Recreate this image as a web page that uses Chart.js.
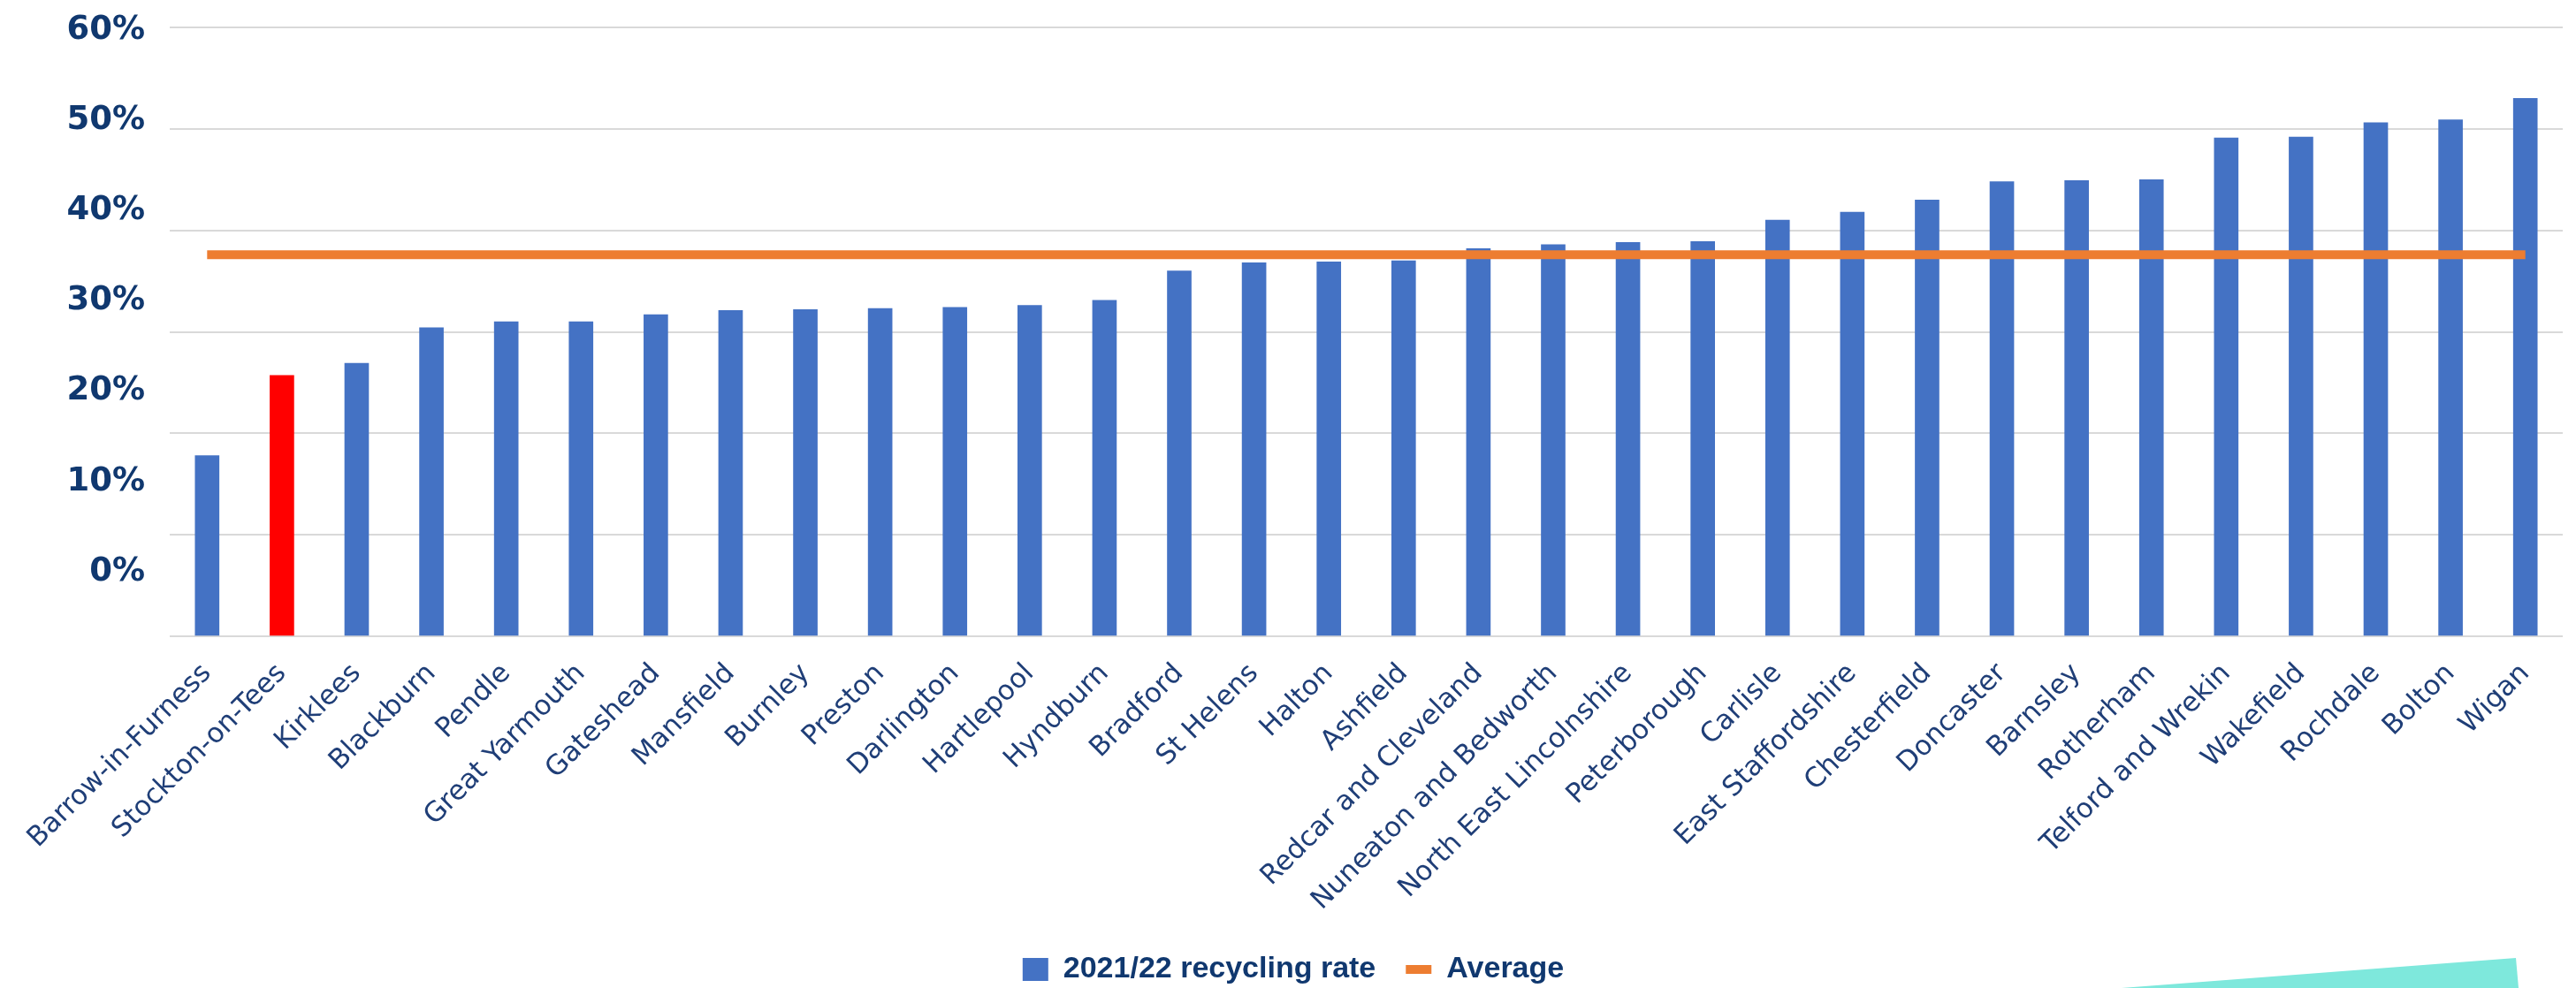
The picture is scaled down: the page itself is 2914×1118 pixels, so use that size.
<!DOCTYPE html>
<html>
<head>
<meta charset="utf-8">
<script src="https://cdn.jsdelivr.net/npm/chart.js@4"></script>
<style>
  html, body { margin: 0; padding: 0; background: #ffffff; overflow: hidden; }
  #wrap { width: 2914px; height: 1118px; position: relative; }
</style>
</head>
<body>
<div id="wrap"><canvas id="c"></canvas></div>
<script>
// ---- data ----
const categories = ["Barrow-in-Furness", "Stockton-on-Tees", "Kirklees", "Blackburn", "Pendle",
  "Great Yarmouth", "Gateshead", "Mansfield", "Burnley", "Preston", "Darlington", "Hartlepool",
  "Hyndburn", "Bradford", "St Helens", "Halton", "Ashfield", "Redcar and Cleveland",
  "Nuneaton and Bedworth", "North East Lincolnshire", "Peterborough", "Carlisle",
  "East Staffordshire", "Chesterfield", "Doncaster", "Barnsley", "Rotherham",
  "Telford and Wrekin", "Wakefield", "Rochdale", "Bolton", "Wigan"];
const recyclingRate = [17.8, 25.7, 26.9, 30.4, 31.0, 31.0, 31.7, 32.1, 32.2, 32.3, 32.4, 32.6,
  33.1, 36.0, 36.8, 36.9, 37.0, 38.2, 38.6, 38.8, 38.9, 41.0, 41.8, 43.0, 44.8, 44.9, 45.0,
  49.1, 49.2, 50.6, 50.9, 53.0];
const averageRate = 37.6;
const highlighted = "Stockton-on-Tees";
const seriesNames = ["2021/22 recycling rate", "Average"];
const yTickLabels = [0, 10, 20, 30, 40, 50, 60];
const yLabelAxisMin = -7.41;   // tick labels in the source sit offset from the gridlines

// ---- styles ----
const BLUE = '#4472C4', RED = '#FF0000', ORANGE = '#ED7D31', NAVY = '#10386f', XNAVY = '#1f3e77';

const teal = {
  id: 'tealWedge',
  afterDraw(chart) {
    const ctx = chart.ctx;
    ctx.save();
    ctx.fillStyle = '#7ee8dc';
    ctx.beginPath();
    ctx.moveTo(2400, 1118);
    ctx.lineTo(2846, 1084);
    ctx.lineTo(2849, 1118);
    ctx.closePath();
    ctx.fill();
    ctx.restore();
  }
};

new Chart(document.getElementById('c'), {
  data: {
    labels: categories,
    datasets: [
      {
        type: 'bar',
        label: seriesNames[0],
        data: recyclingRate,
        backgroundColor: categories.map(c => c === highlighted ? RED : BLUE),
        barThickness: 27,
        order: 1,
        yAxisID: 'y'
      },
      {
        type: 'line',
        label: seriesNames[1],
        data: categories.map(() => averageRate),
        borderColor: ORANGE,
        backgroundColor: ORANGE,
        borderWidth: 10,
        pointRadius: 0,
        pointHoverRadius: 0,
        fill: false,
        order: 0,
        yAxisID: 'y'
      }
    ]
  },
  plugins: [teal],
  options: {
    responsive: true,
    maintainAspectRatio: false,
    animation: false,
    devicePixelRatio: 1,
    layout: { padding: { left: 27, right: 15, top: 31, bottom: -6 } },
    plugins: {
      tooltip: { enabled: false },
      legend: {
        position: 'bottom',
        labels: {
          usePointStyle: true,
          pointStyleWidth: 29,
          boxHeight: 26,
          padding: 34,
          color: NAVY,
          font: { family: 'Liberation Sans', weight: 'bold', size: 34, lineHeight: 1 },
          generateLabels: chart => chart.data.datasets.map((ds, i) => ({
            text: ds.label,
            datasetIndex: i,
            fillStyle: i === 0 ? BLUE : ORANGE,
            strokeStyle: i === 0 ? BLUE : ORANGE,
            lineWidth: i === 0 ? 0 : 10,
            pointStyle: i === 0 ? 'rect' : 'line',
            fontColor: NAVY,
            hidden: false
          }))
        }
      }
    },
    scales: {
      x: {
        grid: { display: false, drawTicks: false },
        border: { display: false },
        ticks: {
          autoSkip: false, maxRotation: 45, minRotation: 45, padding: 24,
          color: XNAVY, font: { family: 'DejaVu Sans', size: 31 }
        },
        afterFit: s => { s.height = 326; }
      },
      yl: {
        type: 'linear',
        position: 'left',
        min: yLabelAxisMin,
        max: 60,
        afterBuildTicks: ax => { ax.ticks = yTickLabels.map(v => ({ value: v })); },
        grid: { display: false, drawTicks: false },
        border: { display: false },
        ticks: {
          padding: 28, labelOffset: 3, color: NAVY,
          font: { family: 'DejaVu Sans', weight: 'bold', size: 37 },
          callback: v => v + '%'
        },
        afterFit: s => { s.width = 165; s.paddingTop = 0; s.paddingBottom = 0; }
      },
      y: {
        type: 'linear',
        position: 'left',
        min: 0,
        max: 60,
        ticks: { display: false, stepSize: 10 },
        grid: { color: '#d9d9d9', lineWidth: 2, drawTicks: false },
        border: { display: false },
        afterFit: s => { s.width = 0; s.paddingTop = 0; s.paddingBottom = 0; }
      }
    }
  }
});
</script>
</body>
</html>
